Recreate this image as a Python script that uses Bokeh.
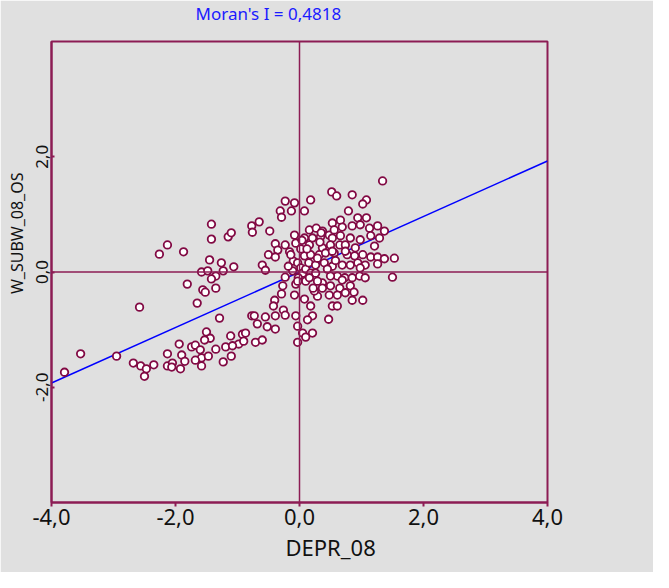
from bokeh.plotting import figure
from bokeh.models import Range1d, FixedTicker, Span, Title
from bokeh.embed import file_html
from bokeh.resources import INLINE

# ---- data ----
moran_i = 0.4818
x_ticks = [-4, -2, 0, 2, 4]
y_ticks = [-2, 0, 2]
x_name = "DEPR_08"
y_name = "W_SUBW_08_OS"

depr_08 = [
    -3.79, -3.53, -2.95, -2.58, -1.42, -1.42, -1.15, -1.10, -0.77, -0.76,
    -2.13, -2.26, -1.87, -1.45, -1.26, -1.06, -1.58, -1.48, -1.35, -1.42,
    -1.23, -1.81, -1.56, -1.52, -1.35, -1.65, -1.29, -0.77,
    -2.68, -2.56, -2.35, -2.47, -2.50, -2.13, -1.94, -2.13, -2.05, -2.06,
    -1.92, -1.90, -1.85, -1.74, -1.68, -1.60, -1.50, -1.44, -1.53, -1.58,
    -1.68, -1.58, -1.47, -1.35, -1.19, -1.11, -1.23, -1.10, -0.98, -0.92,
    -0.90, -1.08,
    -0.60, -0.55, -0.23, -0.27, -0.29, -0.08, -0.06, 0.10, 0.08, -0.40,
    -0.42, -0.26, -0.23, -0.39, -0.06, 0.18, 0.21, 0.13, -0.73, -0.68,
    -0.55, -0.52, -0.39, -0.87, -0.71, -0.60, -0.03, 0.05, 0.21, 0.10,
    -0.03, 0.47, 0.37, 0.29, 0.24, 0.37,
    -0.23, -0.08, 0.18, -0.31, -0.13, 0.08, -0.29, -0.65, -0.48, -0.08,
    0.16, 0.27, 0.37, 0.08, 0.21, 0.34, 0.48, 0.53, 0.52, -0.39,
    -0.23, -0.06, -0.35, -0.16, -0.50, -0.39, -0.10, 0.08, 0.18, 0.32,
    0.02, 0.16, 0.37,
    1.34, 0.60, 0.85, 1.08, 1.02, 0.79, 0.66, 0.94, 1.08, 0.56,
    0.69, 0.85, 0.98, 1.13, 1.26, 1.37, 0.53, 0.66, 0.82, 0.98,
    1.15, 1.29, 0.50, 0.65, 0.74, 0.90, 1.21, 0.56, 0.77, 0.89,
    1.02, 1.15, 1.26, 1.37, 1.53, 0.69, 0.94, 1.06,
    0.53, 0.82, 0.98, 1.50, 0.61, 0.73, 0.85, 0.97, 1.06, 0.50,
    0.65, 0.82, 0.48, 0.61, 0.74, 0.85, 1.02, 0.53, 0.61, 1.26,
    -0.03, 0.02, 0.05, -0.02, 0.10, 0.18, 0.26, 0.15, 0.26, 0.40,
    -0.11, -0.18, 0.29, 0.42, 0.53, 0.74, 0.16, 0.29, 0.50, 0.69,
    -0.03, 0.12, 0.33, 0.45, -0.14, 0.04, 0.22, 0.58, 0.88, 0.35,
]

w_subw_08_os = [
    -1.74, -1.42, -1.46, -0.61, 0.83, 0.57, 0.61, 0.68, 0.80, 0.69,
    0.47, 0.31, 0.35, 0.21, 0.16, 0.09, 0.00, 0.02, -0.07, -0.12,
    0.02, -0.21, -0.31, -0.35, -0.28, -0.54, -0.80, -0.76,
    -1.58, -1.63, -1.61, -1.68, -1.81, -1.42, -1.25, -1.63, -1.58, -1.65,
    -1.68, -1.44, -1.55, -1.30, -1.27, -1.35, -1.04, -1.15, -1.18, -1.49,
    -1.53, -1.63, -1.46, -1.34, -1.30, -1.11, -1.56, -1.46, -1.25, -1.08,
    -1.20, -1.28,
    0.12, 0.03, -0.09, -0.24, -0.38, -0.40, -0.21, -0.16, -0.47, -0.49,
    -0.59, -0.66, -0.75, -0.76, -0.76, -0.59, -0.76, -0.83, -0.76, -0.90,
    -0.78, -0.95, -0.99, -1.06, -1.22, -1.18, -0.94, -1.06, -1.06, -1.13,
    -1.22, -0.82, -0.19, -0.42, -0.33, -0.28,
    1.23, 1.20, 1.25, 1.06, 1.06, 1.06, 0.95, 0.87, 0.71, 0.64,
    0.73, 0.76, 0.71, 0.59, 0.59, 0.61, 0.64, 0.85, 1.39, 0.49,
    0.47, 0.50, 0.38, 0.35, 0.30, 0.26, 0.19, 0.28, 0.30, 0.30,
    0.40, 0.47, 0.42,
    1.58, 1.32, 1.34, 1.25, 1.18, 1.06, 0.90, 0.94, 0.94, 0.73,
    0.78, 0.80, 0.82, 0.76, 0.80, 0.71, 0.59, 0.63, 0.59, 0.56,
    0.63, 0.59, 0.47, 0.47, 0.47, 0.42, 0.45, 0.33, 0.30, 0.28,
    0.30, 0.26, 0.26, 0.23, 0.24, 0.12, 0.16, 0.12,
    0.10, 0.12, 0.07, -0.09, -0.07, -0.10, -0.10, -0.07, -0.10, -0.24,
    -0.28, -0.24, -0.40, -0.40, -0.36, -0.49, -0.49, -0.59, -0.59, 0.14,
    0.16, 0.07, -0.02, -0.10, 0.05, -0.02, -0.02, 0.16, 0.12, 0.16,
    0.02, 0.10, 0.24, 0.33, 0.36, 0.36, -0.10, -0.16, -0.07, -0.14,
    -0.16, 0.40, 0.52, 0.05, 0.30, 0.55, -0.28, 0.20, -0.35, 0.68,
]

# ---- style ----
bg = "#e0e0e0"
maroon = "#8c1c54"
pt_line = "#820a44"
font = "Noto Sans"
ink = "#111111"


def fmt(v, nd=1):
    return f"{v:.{nd}f}".replace(".", ",")


p = figure(
    frame_width=496, frame_height=461,
    x_range=Range1d(x_ticks[0], x_ticks[-1]),
    y_range=Range1d(-4, 4),
    output_backend="svg", toolbar_location=None,
    min_border_left=51, min_border_right=106,
    min_border_top=41, min_border_bottom=70,
    background_fill_color=bg, border_fill_color=bg,
    outline_line_color=maroon, outline_line_width=2,
)
p.xgrid.visible = False
p.ygrid.visible = False

xa = p.xaxis[0]
xa.ticker = FixedTicker(ticks=x_ticks)
xa.major_label_overrides = {t: fmt(t) for t in x_ticks}
xa.axis_line_color = maroon
xa.axis_line_width = 2
xa.major_tick_line_color = maroon
xa.major_tick_line_width = 2
xa.major_tick_out = 4
xa.major_tick_in = 0
xa.minor_tick_line_color = None
xa.major_label_text_font = font
xa.major_label_text_font_size = "22px"
xa.major_label_text_color = ink
xa.major_label_standoff = 2

ya = p.yaxis[0]
ya.ticker = FixedTicker(ticks=y_ticks)
ya.major_label_overrides = {t: fmt(t) for t in y_ticks}
ya.axis_line_color = maroon
ya.axis_line_width = 2
ya.major_tick_line_color = maroon
ya.major_tick_line_width = 2
ya.major_tick_out = 0
ya.major_tick_in = 3
ya.minor_tick_line_color = None
ya.major_label_orientation = "vertical"
ya.major_label_text_font = font
ya.major_label_text_font_size = "17px"
ya.major_label_text_color = ink
ya.major_label_standoff = 4

# axis titles (placed as side titles so they can sit off-centre like the original)
p.add_layout(Title(text=y_name, align="right", offset=131, standoff=5,
                   vertical_align="top",
                   text_font=font, text_font_size="16px", text_font_style="normal",
                   text_color=ink), "left")
p.add_layout(Title(text=x_name, align="left", offset=234, standoff=4,
                   text_font=font, text_font_size="22px", text_font_style="normal",
                   text_color=ink), "below")

# top: spacer next to the frame, then the Moran's I caption
p.add_layout(Title(text=" ", standoff=11, text_font=font, text_font_size="2px",
                   text_font_style="normal", text_color=bg), "above")
p.add_layout(Title(text=f"Moran's I = {fmt(moran_i, 4)}", align="left", offset=144,
                   standoff=0, vertical_align="middle",
                   text_font=font, text_font_size="17px", text_font_style="normal",
                   text_color="#1a1aff"), "above")

p.add_layout(Span(location=0, dimension="width", line_color=maroon, line_width=1.5))
p.add_layout(Span(location=0, dimension="height", line_color=maroon, line_width=1.5))

xr0, xr1 = x_ticks[0], x_ticks[-1]
p.line([xr0, xr1], [moran_i * xr0, moran_i * xr1], line_color="#0000ff", line_width=1.5)

p.scatter(depr_08, w_subw_08_os, marker="circle", size=7.5,
          fill_color="white", line_color=pt_line, line_width=1.8)

open("out.html", "w").write(file_html(p, INLINE))
